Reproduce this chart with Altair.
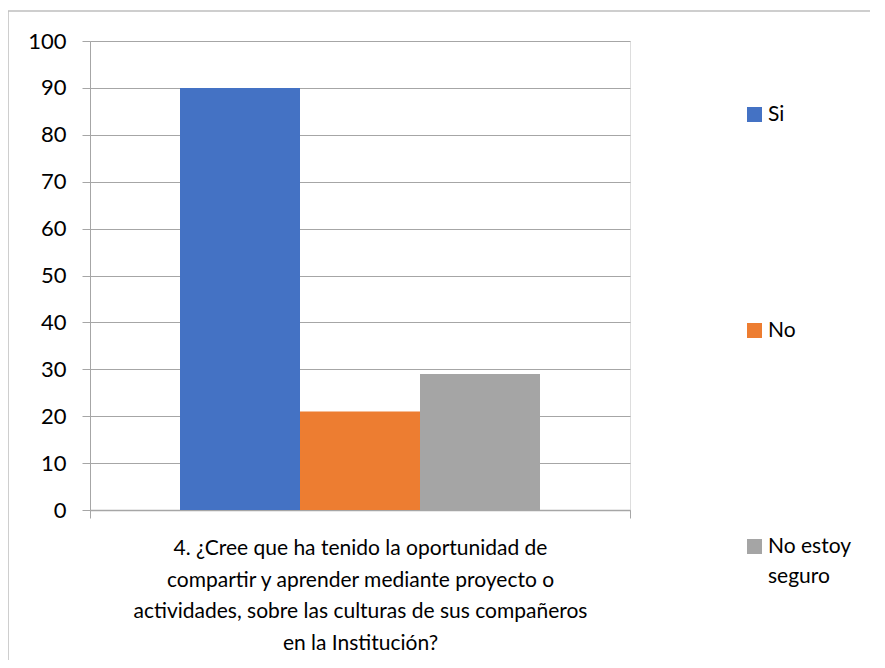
import altair as alt
import pandas as pd

series = ["Si", "No", "No estoy seguro"]
values = [90, 21, 29]
colors = ["#4472C4", "#ED7D31", "#A5A5A5"]
question = "4. ¿Cree que ha tenido la oportunidad de compartir y aprender mediante proyecto o actividades, sobre las culturas de sus compañeros en la Institución?"
title_lines = [
    "4. ¿Cree que ha tenido la oportunidad de",
    "compartir y aprender mediante proyecto o",
    "actividades, sobre las culturas de sus compañeros",
    "en la Institución?",
]
y_ticks = [0, 10, 20, 30, 40, 50, 60, 70, 80, 90, 100]

df = pd.DataFrame({"q": [question] * 3, "serie": series, "valor": values})

FONT = "Lato"
W, H = 540, 469

bars = alt.Chart(df).mark_bar().encode(
    x=alt.X("q:N", scale=alt.Scale(paddingInner=0, paddingOuter=0),
            axis=alt.Axis(labels=False, tickBand="extent", tickSize=8, tickColor="#a6a6a6",
                          domainColor="#a6a6a6", domainWidth=1.5, title=title_lines,
                          titleFont=FONT, titleFontSize=21, titleFontWeight="normal",
                          titleColor="#000000", titleLineHeight=31.5, titlePadding=19)),
    xOffset=alt.XOffset("serie:N", sort=series,
                        scale=alt.Scale(paddingInner=0, paddingOuter=0.75)),
    y=alt.Y("valor:Q", scale=alt.Scale(domain=[0, 100]),
            axis=alt.Axis(values=y_ticks, title=None, tickSize=8, tickColor="#a6a6a6",
                          domainColor="#a6a6a6", gridColor="#a6a6a6", labelFont=FONT,
                          labelFontSize=22, labelColor="#000000", labelPadding=16)),
    color=alt.Color("serie:N", sort=series,
                    scale=alt.Scale(domain=series, range=colors),
                    legend=alt.Legend(title=None, orient="none", legendX=654, legendY=63,
                                      symbolType="square", symbolSize=225, symbolStrokeWidth=0,
                                      labelFont=FONT, labelFontSize=21, labelColor="#000000",
                                      labelOffset=3, rowPadding=194, padding=0,
                                      labelExpr="datum.label == 'No estoy seguro' ? ['No estoy', 'seguro'] : datum.label")),
)

border = alt.Chart(pd.DataFrame({"a": [0]})).mark_rect(
    fill=None, stroke="#bfbfbf", strokeWidth=1.5
).encode(x=alt.value(-82), x2=alt.value(W + 300), y=alt.value(-30), y2=alt.value(H + 300))

chart = alt.layer(border, bars).properties(
    width=W, height=H,
    autosize=alt.AutoSizeParams(type="none"),
    padding={"left": 82, "top": 33, "right": 240, "bottom": 150},
).configure_view(stroke=None).configure_axis(grid=True).configure_axisX(grid=False).configure(
    style={"guide-label": {"lineHeight": 30}}
)

chart.save("out.html", embed_options={"renderer": "svg", "actions": False})
